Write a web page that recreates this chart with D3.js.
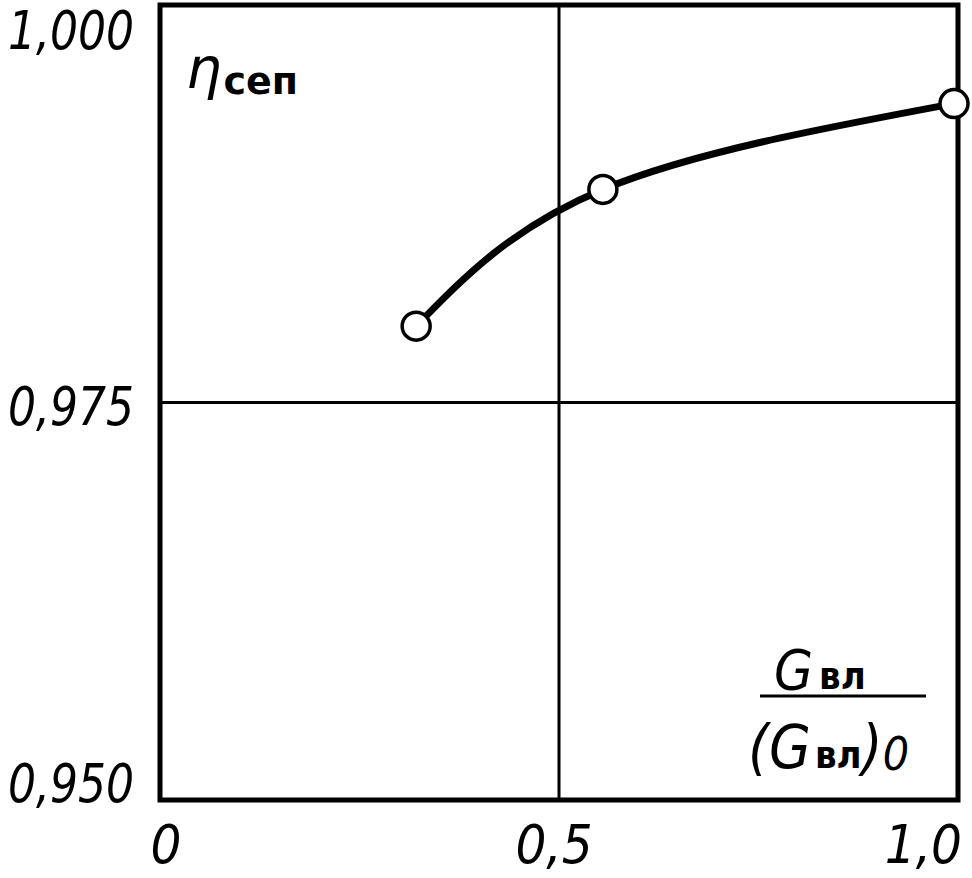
<!DOCTYPE html>
<html><head><meta charset="utf-8">
<script src="https://cdn.jsdelivr.net/npm/d3@7"></script>
<style>
body{margin:0;background:#fff;}
svg{display:block;}
.tick-label{font-family:"DejaVu Sans Condensed","DejaVu Sans",sans-serif;font-style:italic;font-size:54px;fill:#000;}
</style></head>
<body>
<svg id="chart" width="972" height="878"></svg>
<script>
// Data
const xValues = [0.321, 0.555, 0.995];
const yValues = [0.9798, 0.9884, 0.9938];
const xTicks = [0, 0.5, 1.0];
const xTickLabels = ["0", "0,5", "1,0"];
const yTicks = [0.950, 0.975, 1.000];
const yTickLabels = ["0,950", "0,975", "1,000"];

const svg = d3.select("#chart");
const x = d3.scaleLinear().domain([0, 1]).range([160, 958]);
const y = d3.scaleLinear().domain([0.95, 1.0]).range([800, 5]);

// grid lines
svg.append("g").selectAll("line").data([0.5]).join("line")
  .attr("x1", d => x(d)).attr("x2", d => x(d))
  .attr("y1", y(1.0)).attr("y2", y(0.95))
  .attr("stroke", "#000").attr("stroke-width", 3);
svg.append("g").selectAll("line").data([0.975]).join("line")
  .attr("x1", x(0)).attr("x2", x(1))
  .attr("y1", d => y(d)).attr("y2", d => y(d))
  .attr("stroke", "#000").attr("stroke-width", 3);

// frame
svg.append("rect")
  .attr("x", x(0)).attr("y", y(1.0))
  .attr("width", x(1) - x(0)).attr("height", y(0.95) - y(1.0))
  .attr("fill", "none").attr("stroke", "#000").attr("stroke-width", 5);

// y tick labels
svg.append("g").selectAll("text").data(yTicks).join("text")
  .attr("class", "tick-label")
  .attr("x", 8)
  .attr("y", d => Math.max(49, Math.min(802, y(d) + 22)))
  .attr("textLength", 126)
  .attr("lengthAdjust", "spacingAndGlyphs")
  .text((d, i) => yTickLabels[i]);

// x tick labels
const xAnchor = ["middle", "middle", "end"];
const xShift = [6, -5, 4];
svg.append("g").selectAll("text").data(xTicks).join("text")
  .attr("class", "tick-label")
  .attr("x", (d, i) => x(d) + xShift[i])
  .attr("y", 863)
  .attr("text-anchor", (d, i) => xAnchor[i])
  .text((d, i) => xTickLabels[i]);

// curve
const pts = xValues.map((v, i) => [v, yValues[i]]);
const line = d3.line().x(d => x(d[0])).y(d => y(d[1])).curve(d3.curveNatural);
svg.append("path").datum(pts)
  .attr("d", line).attr("fill", "none")
  .attr("stroke", "#000").attr("stroke-width", 7).attr("stroke-linecap", "round");

svg.append("g").selectAll("circle").data(pts).join("circle")
  .attr("cx", d => x(d[0])).attr("cy", d => y(d[1]))
  .attr("r", 14).attr("fill", "#fff").attr("stroke", "#000").attr("stroke-width", 3.5);

// y axis label
const yl = svg.append("text")
  .attr("x", 186).attr("y", 88)
  .attr("font-family", "DejaVu Sans, sans-serif").attr("fill", "#000");
yl.append("tspan").attr("font-size", 56).attr("font-style", "italic").text("η");
yl.append("tspan").attr("font-size", 38).attr("font-weight", "bold").attr("dx", 2).attr("dy", 6).text("сеп");

// x axis label (fraction)
const num = svg.append("text").attr("x", 774).attr("y", 689)
  .attr("font-family", "DejaVu Sans Condensed, sans-serif").attr("fill", "#000");
num.append("tspan").attr("font-size", 56).attr("font-style", "italic").text("G");
num.append("tspan").attr("font-size", 38).attr("font-weight", "bold").attr("dx", 6).text("вл");

svg.append("line").attr("x1", 760).attr("x2", 926).attr("y1", 696).attr("y2", 696)
  .attr("stroke", "#000").attr("stroke-width", 3);

const den = svg.append("text").attr("x", 748).attr("y", 768)
  .attr("font-family", "DejaVu Sans Condensed, sans-serif").attr("fill", "#000");
den.append("tspan").attr("font-size", 60).attr("font-style", "italic").text("(G");
den.append("tspan").attr("font-size", 38).attr("font-weight", "bold").attr("dx", 4).text("вл");
den.append("tspan").attr("font-size", 60).attr("font-style", "italic").text(")");
den.append("tspan").attr("font-size", 46).attr("font-style", "italic").attr("dx", 0).attr("dy", 2).text("0");
</script>
</body></html>
